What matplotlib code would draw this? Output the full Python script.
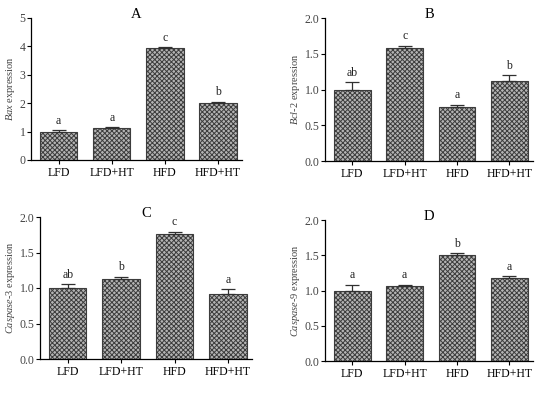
import numpy as np
import matplotlib
matplotlib.use("Agg")
import matplotlib.pyplot as plt

plt.rcParams["font.family"] = ["Liberation Serif", "DejaVu Serif"]
plt.rcParams["mathtext.fontset"] = "custom"
plt.rcParams["mathtext.it"] = "Liberation Serif:italic"
plt.rcParams["mathtext.rm"] = "Liberation Serif"
plt.rcParams["hatch.linewidth"] = 0.7
plt.rcParams["hatch.color"] = "#5a5a5a"

# ============================================================
# DATA
# ============================================================
groups = ["LFD", "LFD+HT", "HFD", "HFD+HT"]

bax_mean = [1.00, 1.12, 3.93, 2.00]
bax_err = [0.05, 0.04, 0.04, 0.05]
bax_sig = ["a", "a", "c", "b"]

bcl2_mean = [1.00, 1.58, 0.76, 1.12]
bcl2_err = [0.10, 0.03, 0.03, 0.08]
bcl2_sig = ["ab", "c", "a", "b"]

casp3_mean = [1.00, 1.12, 1.76, 0.91]
casp3_err = [0.05, 0.04, 0.03, 0.07]
casp3_sig = ["ab", "b", "c", "a"]

casp9_mean = [1.00, 1.07, 1.50, 1.18]
casp9_err = [0.08, 0.01, 0.03, 0.02]
casp9_sig = ["a", "a", "b", "a"]

panels = [
    ("A", r"$\mathit{Bax}$ expression", bax_mean, bax_err, bax_sig, 5, 1),
    ("B", r"$\mathit{Bcl}$-$\mathit{2}$ expression", bcl2_mean, bcl2_err, bcl2_sig, 2.0, 0.5),
    ("C", r"$\mathit{Caspase}$-$\mathit{3}$ expression", casp3_mean, casp3_err, casp3_sig, 2.0, 0.5),
    ("D", r"$\mathit{Caspase}$-$\mathit{9}$ expression", casp9_mean, casp9_err, casp9_sig, 2.0, 0.5),
]

# axes boxes in pixels: left, right, bottom, top (y measured from top)
W, H = 550, 393
boxes = [
    (31, 242, 160, 18),
    (325, 533, 161, 18),
    (40, 252, 359, 217),
    (325, 533, 361, 220),
]

fig = plt.figure(figsize=(W / 100, H / 100), dpi=100)
fig.patch.set_facecolor("white")

for (ttl, ylab, mean, err, sig, ymax, step), (l, r, b, t) in zip(panels, boxes):
    ax = fig.add_axes([l / W, 1 - b / H, (r - l) / W, (b - t) / H])
    x = np.arange(len(groups))
    ax.bar(x, mean, width=0.7, color="#b4b4b4", edgecolor="#3c3c3c",
           hatch="xxxxxxx", linewidth=0.8, zorder=2)
    ax.errorbar(x, mean, yerr=[np.zeros(len(err)), err], fmt="none",
                ecolor="#303030", elinewidth=0.9, capsize=5, capthick=0.9, zorder=3)
    for xi, m, e, s in zip(x, mean, err, sig):
        ax.text(xi, m + e + ymax * 0.025, s, ha="center", va="bottom",
                fontsize=8.5, color="#222222")
    ax.set_xlim(-0.52, 3.45)
    ax.set_ylim(0, ymax)
    ticks = np.arange(0, ymax + step / 2, step)
    ax.set_yticks(ticks)
    if step < 1:
        ax.set_yticklabels([f"{v:.1f}" for v in ticks])
    ax.set_xticks(x)
    ax.set_xticklabels(groups, fontsize=8.5)
    ax.tick_params(axis="y", labelsize=8.5, length=3, width=0.8, pad=1,
                   labelcolor="#444444")
    ax.tick_params(axis="x", length=3, width=0.8, pad=2)
    for sp in ["top", "right"]:
        ax.spines[sp].set_visible(False)
    for sp in ["left", "bottom"]:
        ax.spines[sp].set_linewidth(0.9)
    ax.set_ylabel(ylab, fontsize=7.5, color="#444444", labelpad=2)
    # panel letter sits right on the top edge of the axes
    ax.text(0.5, 1.0, ttl, transform=ax.transAxes, ha="center",
            va="baseline", fontsize=10.5)

fig.savefig("out.png", dpi=100)
